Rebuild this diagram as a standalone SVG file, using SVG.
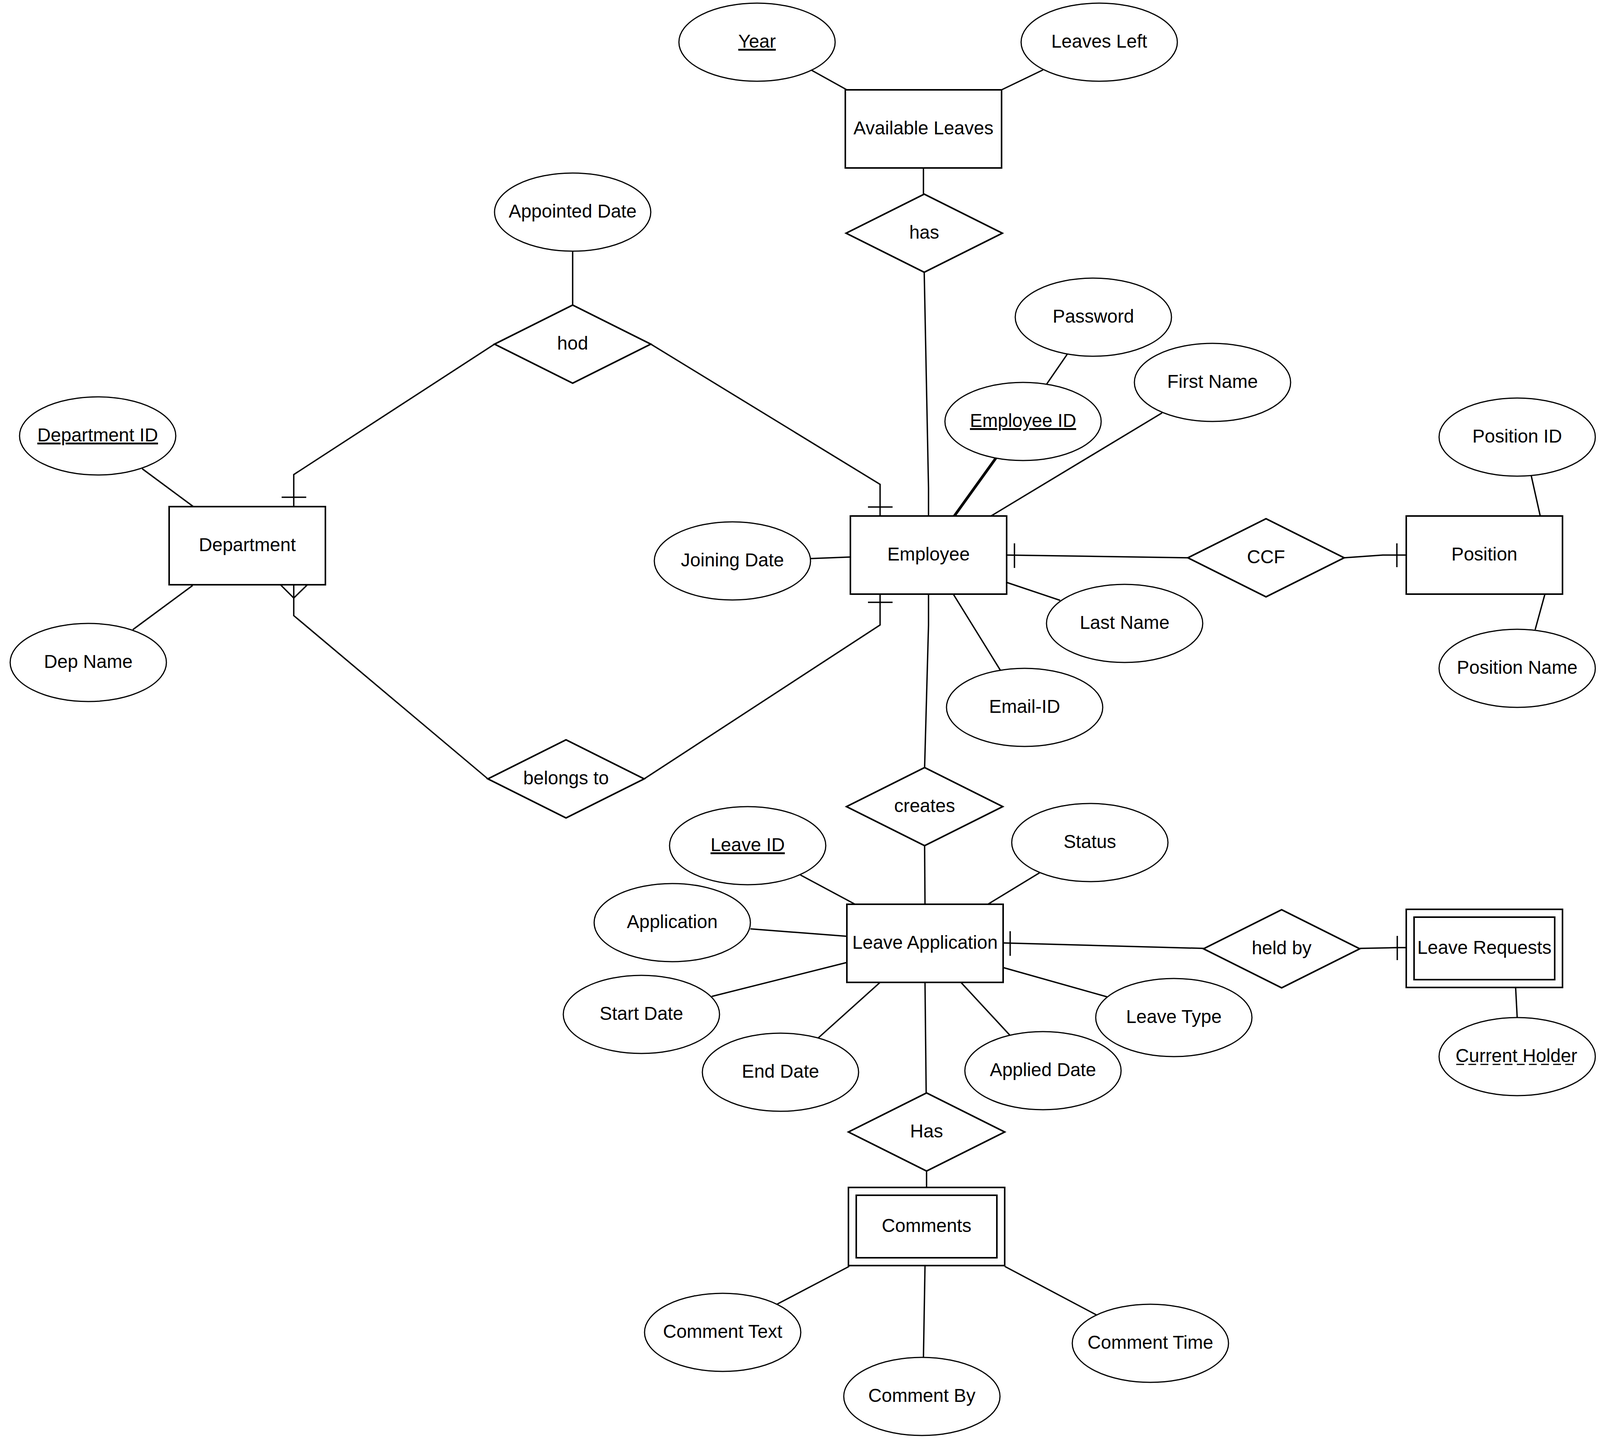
<svg xmlns="http://www.w3.org/2000/svg" width="4896" height="3684" viewBox="0 0 4896 3684">
<style>
.bg{fill:#ffffff}
.ent{fill:#ffffff;stroke:#000000;stroke-width:4}
.att{fill:#ffffff;stroke:#000000;stroke-width:3}
.rel{fill:#ffffff;stroke:#000000;stroke-width:4}
.ln{fill:none;stroke:#000000;stroke-width:3.5}
.thick{fill:none;stroke:#000000;stroke-width:7}
.tk{fill:none;stroke:#000000;stroke-width:3.5}
text{font-family:"Liberation Sans",Arial,Helvetica,sans-serif;font-size:47.5px;fill:#000000;text-anchor:middle}
.u{text-decoration:underline}
.dash{fill:none;stroke:#000000;stroke-width:3;stroke-dasharray:20 11}
</style>
<rect class="bg" x="0" y="0" width="4896" height="3684"/>
<g id="connectors">
<line class="ln" x1="2078" y1="180" x2="2168" y2="230"/>
<line class="ln" x1="2670" y1="179" x2="2564" y2="230"/>
<line class="ln" x1="2364" y1="430" x2="2364" y2="497"/>
<polyline class="ln" points="2366,697 2377,1250 2377,1321"/>
<line class="ln" x1="1466" y1="643" x2="1466" y2="781"/>
<polyline class="ln" points="1266,881 752,1215 752,1297"/>
<line class="tk" x1="721" y1="1273" x2="784" y2="1273"/>
<polyline class="ln" points="1666,881 2253,1240 2253,1321"/>
<line class="tk" x1="2222" y1="1298" x2="2285" y2="1298"/>
<line class="ln" x1="364" y1="1200" x2="495" y2="1297"/>
<line class="ln" x1="493" y1="1499" x2="340" y2="1612"/>
<polyline class="ln" points="1249,1994 752,1576 752,1497"/>
<polyline class="tk" points="718,1497 752,1531 787,1497"/>
<polyline class="ln" points="1649,1994 2253,1600 2253,1522"/>
<line class="tk" x1="2222" y1="1542" x2="2285" y2="1542"/>
<line class="ln" x1="2732" y1="907" x2="2679" y2="984"/>
<line class="thick" x1="2550" y1="1172" x2="2443" y2="1321"/>
<line class="ln" x1="2975" y1="1057" x2="2537" y2="1321"/>
<line class="ln" x1="2075" y1="1430" x2="2177" y2="1426"/>
<line class="ln" x1="2577" y1="1421" x2="3041" y2="1428"/>
<line class="tk" x1="2597" y1="1391" x2="2597" y2="1454"/>
<polyline class="ln" points="3441,1428 3540,1421 3600,1421"/>
<line class="tk" x1="3576" y1="1391" x2="3576" y2="1452"/>
<line class="ln" x1="3920" y1="1218" x2="3943" y2="1321"/>
<line class="ln" x1="3955" y1="1521" x2="3930" y2="1612"/>
<line class="ln" x1="2577" y1="1491" x2="2714" y2="1537"/>
<line class="ln" x1="2441" y1="1522" x2="2561" y2="1716"/>
<polyline class="ln" points="2377,1522 2377,1600 2367,1965"/>
<line class="ln" x1="2367" y1="2165" x2="2368" y2="2315"/>
<line class="ln" x1="2049" y1="2240" x2="2189" y2="2315"/>
<line class="ln" x1="2662" y1="2234" x2="2529" y2="2315"/>
<line class="ln" x1="1921" y1="2378" x2="2168" y2="2397"/>
<line class="ln" x1="2168" y1="2464" x2="1822" y2="2551"/>
<line class="ln" x1="2253" y1="2515" x2="2095" y2="2657"/>
<line class="ln" x1="2368" y1="2515" x2="2371" y2="2798"/>
<line class="ln" x1="2460" y1="2515" x2="2585" y2="2650"/>
<line class="ln" x1="2568" y1="2477" x2="2834" y2="2552"/>
<line class="ln" x1="2568" y1="2414" x2="3082" y2="2428"/>
<line class="tk" x1="2586" y1="2384" x2="2586" y2="2447"/>
<polyline class="ln" points="3481,2428 3577,2426 3600,2426"/>
<line class="tk" x1="3577" y1="2396" x2="3577" y2="2458"/>
<line class="ln" x1="3880" y1="2528" x2="3884" y2="2605"/>
<line class="ln" x1="2372" y1="2998" x2="2372" y2="3040"/>
<line class="ln" x1="2174" y1="3242" x2="1989" y2="3339"/>
<line class="ln" x1="2368" y1="3242" x2="2364" y2="3476"/>
<line class="ln" x1="2572" y1="3242" x2="2808" y2="3367"/>
</g>
<g id="e-available-leaves"><rect class="ent" x="2164" y="230" width="400" height="200"/><text x="2364" y="344">Available Leaves</text></g>
<g id="e-department"><rect class="ent" x="433" y="1297" width="400" height="200"/><text x="633" y="1411">Department</text></g>
<g id="e-employee"><rect class="ent" x="2177" y="1321" width="400" height="200"/><text x="2377" y="1435">Employee</text></g>
<g id="e-position"><rect class="ent" x="3600" y="1321" width="400" height="200"/><text x="3800" y="1435">Position</text></g>
<g id="e-leave-application"><rect class="ent" x="2168" y="2315" width="400" height="200"/><text x="2368" y="2429">Leave Application</text></g>
<g id="e-leave-requests"><rect class="ent" x="3600" y="2328" width="400" height="200"/><rect class="ent" x="3620" y="2348" width="360" height="160"/><text x="3800" y="2442">Leave Requests</text></g>
<g id="e-comments"><rect class="ent" x="2172" y="3040" width="400" height="200"/><rect class="ent" x="2192" y="3060" width="360" height="160"/><text x="2372" y="3154">Comments</text></g>
<g id="r-has"><polygon class="rel" points="2166,597 2366,497 2566,597 2366,697"/><text x="2366" y="611">has</text></g>
<g id="r-hod"><polygon class="rel" points="1266,881 1466,781 1666,881 1466,981"/><text x="1466" y="895">hod</text></g>
<g id="r-ccf"><polygon class="rel" points="3041,1428 3241,1328 3441,1428 3241,1528"/><text x="3241" y="1442">CCF</text></g>
<g id="r-belongs-to"><polygon class="rel" points="1249,1994 1449,1894 1649,1994 1449,2094"/><text x="1449" y="2008">belongs to</text></g>
<g id="r-creates"><polygon class="rel" points="2167,2065 2367,1965 2567,2065 2367,2165"/><text x="2367" y="2079">creates</text></g>
<g id="r-held-by"><polygon class="rel" points="3081,2429 3281,2329 3481,2429 3281,2529"/><text x="3281" y="2443">held by</text></g>
<g id="r-has2"><polygon class="rel" points="2172,2898 2372,2798 2572,2898 2372,2998"/><text x="2372" y="2912">Has</text></g>
<g id="a-year"><ellipse class="att" cx="1938" cy="108" rx="200" ry="100"/><text class="u" x="1938" y="122">Year</text></g>
<g id="a-leaves-left"><ellipse class="att" cx="2814" cy="108" rx="200" ry="100"/><text x="2814" y="122">Leaves Left</text></g>
<g id="a-appointed-date"><ellipse class="att" cx="1466" cy="543" rx="200" ry="100"/><text x="1466" y="557">Appointed Date</text></g>
<g id="a-department-id"><ellipse class="att" cx="250" cy="1116" rx="200" ry="100"/><text class="u" x="250" y="1130">Department ID</text></g>
<g id="a-dep-name"><ellipse class="att" cx="226" cy="1696" rx="200" ry="100"/><text x="226" y="1710">Dep Name</text></g>
<g id="a-password"><ellipse class="att" cx="2799" cy="812" rx="200" ry="100"/><text x="2799" y="826">Password</text></g>
<g id="a-first-name"><ellipse class="att" cx="3104" cy="979" rx="200" ry="100"/><text x="3104" y="993">First Name</text></g>
<g id="a-employee-id"><ellipse class="att" cx="2619" cy="1079" rx="200" ry="100"/><text class="u" x="2619" y="1093">Employee ID</text></g>
<g id="a-joining-date"><ellipse class="att" cx="1875" cy="1436" rx="200" ry="100"/><text x="1875" y="1450">Joining Date</text></g>
<g id="a-last-name"><ellipse class="att" cx="2879" cy="1596" rx="200" ry="100"/><text x="2879" y="1610">Last Name</text></g>
<g id="a-email-id"><ellipse class="att" cx="2623" cy="1811" rx="200" ry="100"/><text x="2623" y="1825">Email-ID</text></g>
<g id="a-position-id"><ellipse class="att" cx="3884" cy="1119" rx="200" ry="100"/><text x="3884" y="1133">Position ID</text></g>
<g id="a-position-name"><ellipse class="att" cx="3884" cy="1711" rx="200" ry="100"/><text x="3884" y="1725">Position Name</text></g>
<g id="a-leave-id"><ellipse class="att" cx="1914" cy="2165" rx="200" ry="100"/><text class="u" x="1914" y="2179">Leave ID</text></g>
<g id="a-status"><ellipse class="att" cx="2790" cy="2157" rx="200" ry="100"/><text x="2790" y="2171">Status</text></g>
<g id="a-application"><ellipse class="att" cx="1721" cy="2362" rx="200" ry="100"/><text x="1721" y="2376">Application</text></g>
<g id="a-start-date"><ellipse class="att" cx="1642" cy="2597" rx="200" ry="100"/><text x="1642" y="2611">Start Date</text></g>
<g id="a-end-date"><ellipse class="att" cx="1998" cy="2745" rx="200" ry="100"/><text x="1998" y="2759">End Date</text></g>
<g id="a-applied-date"><ellipse class="att" cx="2670" cy="2741" rx="200" ry="100"/><text x="2670" y="2755">Applied Date</text></g>
<g id="a-leave-type"><ellipse class="att" cx="3005" cy="2605" rx="200" ry="100"/><text x="3005" y="2619">Leave Type</text></g>
<g id="a-current-holder"><ellipse class="att" cx="3884" cy="2705" rx="200" ry="100"/><text x="3882" y="2719">Current Holder</text><line class="dash" x1="3728" y1="2725" x2="4036" y2="2725"/></g>
<g id="a-comment-text"><ellipse class="att" cx="1850" cy="3411" rx="200" ry="100"/><text x="1850" y="3425">Comment Text</text></g>
<g id="a-comment-by"><ellipse class="att" cx="2360" cy="3575" rx="200" ry="100"/><text x="2360" y="3589">Comment By</text></g>
<g id="a-comment-time"><ellipse class="att" cx="2945" cy="3439" rx="200" ry="100"/><text x="2945" y="3453">Comment Time</text></g>
</svg>
